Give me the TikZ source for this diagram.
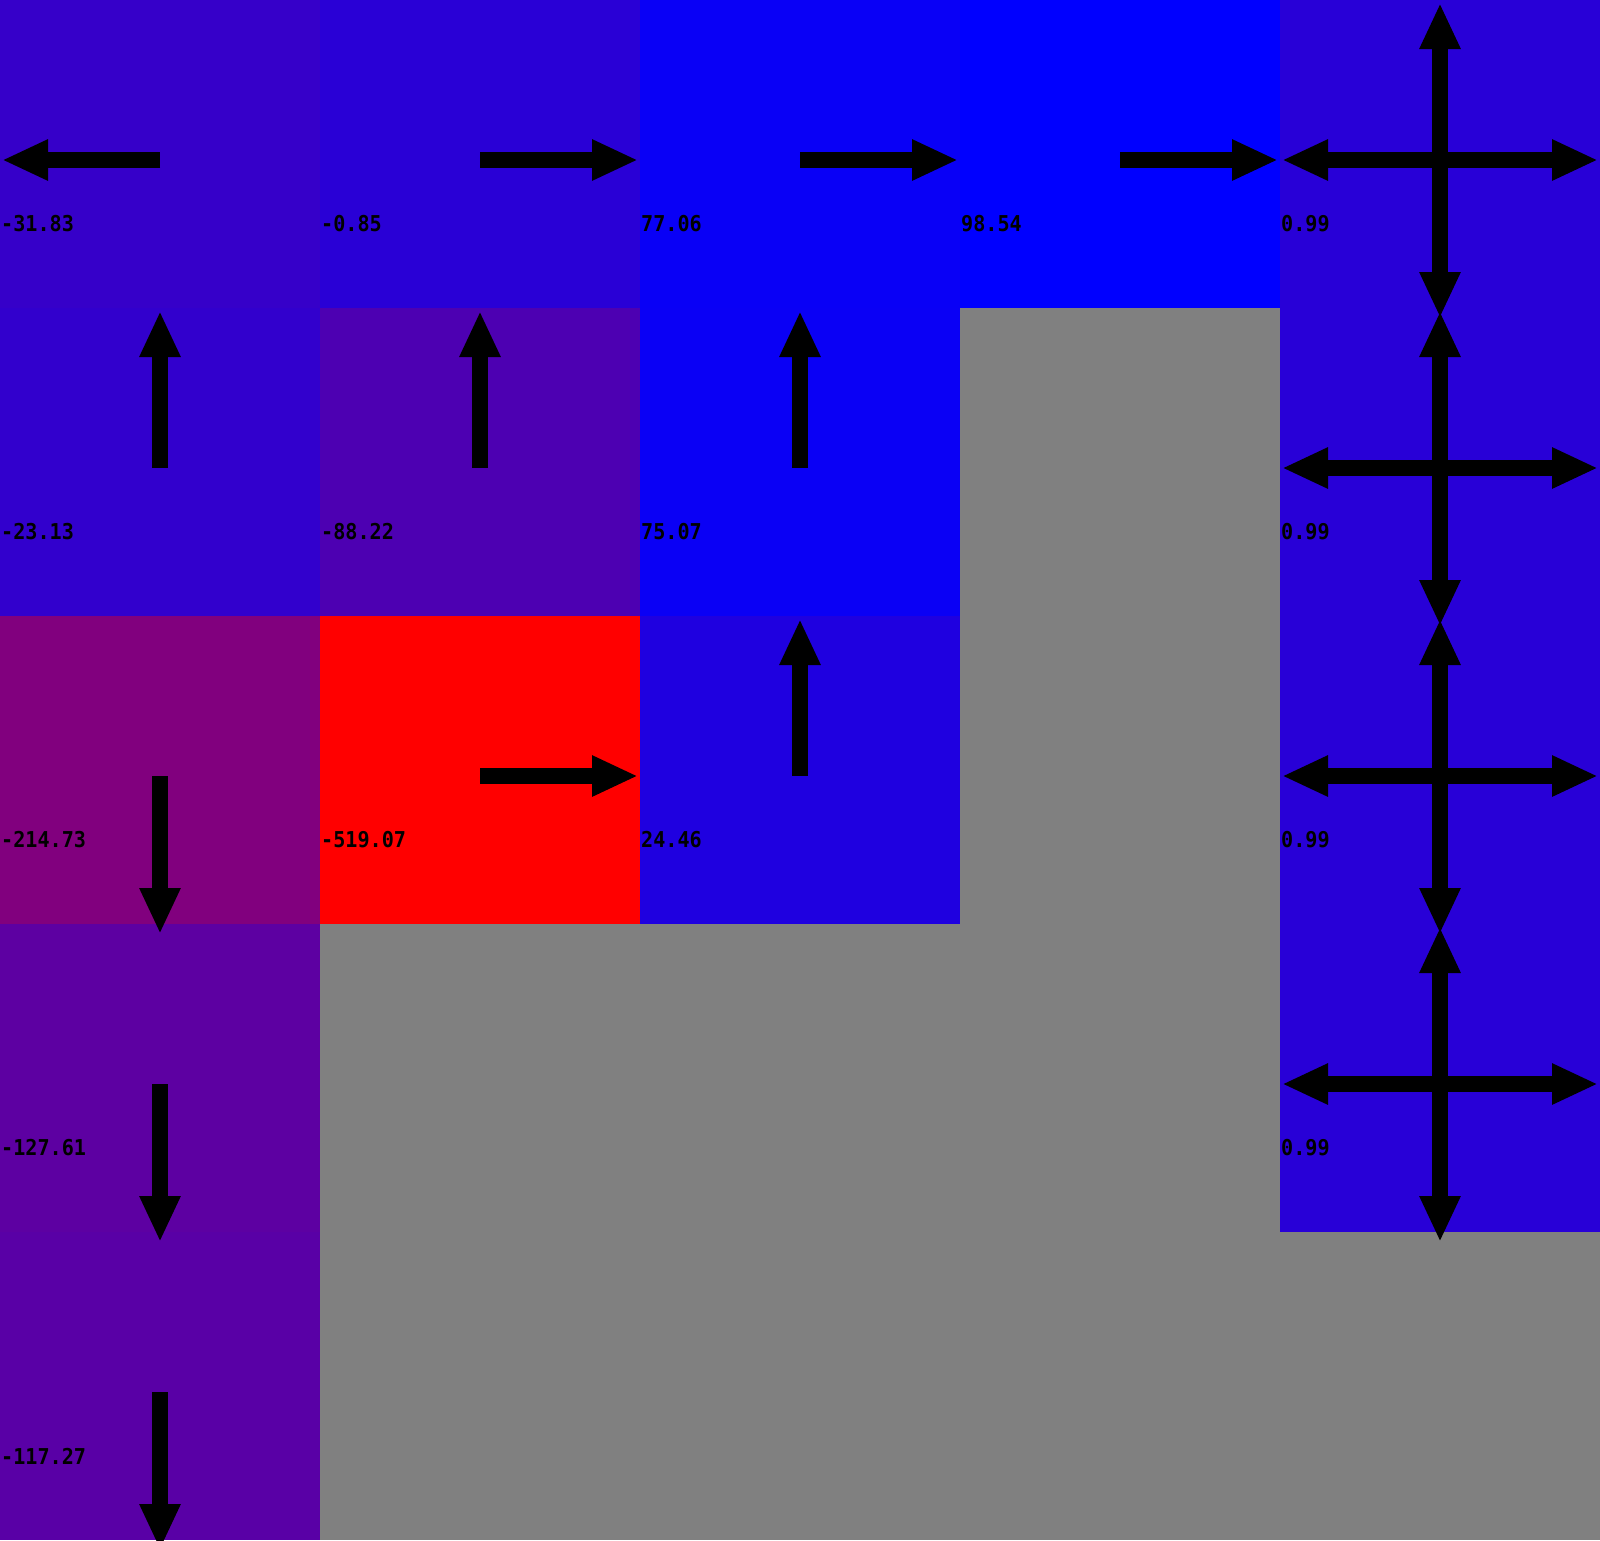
\documentclass[tikz,border=0pt]{standalone}
\usepackage{fontspec}
\newfontfamily\valfont{DejaVu Sans Mono}
\usetikzlibrary{arrows.meta}
\definecolor{c00}{RGB}{54,0,201}
\definecolor{c10}{RGB}{41,0,214}
\definecolor{c20}{RGB}{9,0,246}
\definecolor{c30}{RGB}{0,0,255}
\definecolor{cq}{RGB}{40,0,215}
\definecolor{c01}{RGB}{50,0,205}
\definecolor{c11}{RGB}{77,0,178}
\definecolor{c21}{RGB}{10,0,245}
\definecolor{c02}{RGB}{129,0,126}
\definecolor{c12}{RGB}{255,0,0}
\definecolor{c22}{RGB}{31,0,224}
\definecolor{c03}{RGB}{93,0,162}
\definecolor{c04}{RGB}{89,0,166}
\definecolor{wall}{RGB}{128,128,128}
\tikzset{
  cell/.style={draw=none,inner sep=0pt,outer sep=0pt,minimum width=320pt,minimum height=308pt},
  arr/.style={line width=16pt,-{Triangle[length=46pt,width=38pt]}},
  val/.style={anchor=west,inner sep=0pt,font=\valfont\bfseries\fontsize{19pt}{19pt}\selectfont}
}
\newcommand\goW[1]{\draw[arr] ([yshift=-6pt]#1.center) -- ([xshift=2pt,yshift=-6pt]#1.west);}
\newcommand\goE[1]{\draw[arr] ([yshift=-6pt]#1.center) -- ([xshift=-2pt,yshift=-6pt]#1.east);}
\newcommand\goN[1]{\draw[arr] ([yshift=-6pt]#1.center) -- ([yshift=-3pt]#1.north);}
\newcommand\goS[1]{\draw[arr] ([yshift=-6pt]#1.center) -- ([yshift=-10pt]#1.south);}
\newcommand\val[3]{\node[val] (#1) at (#2) {\scalebox{1.06}[1.15]{#3}};}
\begin{document}
\begin{tikzpicture}[x=1pt,y=-1pt]
\useasboundingbox (0,0) rectangle (1600,1540);
\fill[wall] (0,0) rectangle (1600,1540);
% cells
\node[cell,fill=c00] (c00) at (160,154) {};
\node[cell,fill=c10] (c10) at (480,154) {};
\node[cell,fill=c20] (c20) at (800,154) {};
\node[cell,fill=c30] (c30) at (1120,154) {};
\node[cell,fill=cq] (c40) at (1440,154) {};
\node[cell,fill=c01] (c01) at (160,462) {};
\node[cell,fill=c11] (c11) at (480,462) {};
\node[cell,fill=c21] (c21) at (800,462) {};
\node[cell,fill=cq] (c41) at (1440,462) {};
\node[cell,fill=c02] (c02) at (160,770) {};
\node[cell,fill=c12] (c12) at (480,770) {};
\node[cell,fill=c22] (c22) at (800,770) {};
\node[cell,fill=cq] (c42) at (1440,770) {};
\node[cell,fill=c03] (c03) at (160,1078) {};
\node[cell,fill=cq] (c43) at (1440,1078) {};
\node[cell,fill=c04] (c04) at (160,1386) {};
% arrows
\goW{c00}
\goE{c10}
\goE{c20}
\goE{c30}
\goN{c01}
\goN{c11}
\goN{c21}
\goS{c02}
\goE{c12}
\goN{c22}
\goS{c03}
\goS{c04}
\foreach \n in {c40,c41,c42,c43}{
  \goN{\n}
  \goS{\n}
  \goW{\n}
  \goE{\n}
}
% labels
\val{l00}{1,224}{-31.83}
\val{l10}{321,224}{-0.85}
\val{l20}{641,224}{77.06}
\val{l30}{961,224}{98.54}
\val{l40}{1281,224}{0.99}
\val{l01}{1,532}{-23.13}
\val{l11}{321,532}{-88.22}
\val{l21}{641,532}{75.07}
\val{l41}{1281,532}{0.99}
\val{l02}{1,840}{-214.73}
\val{l12}{321,840}{-519.07}
\val{l22}{641,840}{24.46}
\val{l42}{1281,840}{0.99}
\val{l03}{1,1148}{-127.61}
\val{l43}{1281,1148}{0.99}
\val{l04}{1,1456}{-117.27}
\end{tikzpicture}
\end{document}
